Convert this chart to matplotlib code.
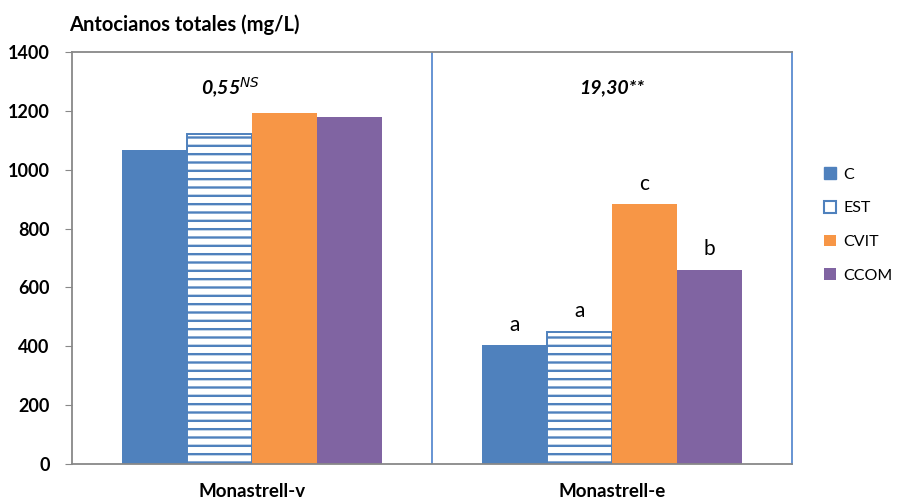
import numpy as np
import matplotlib.pyplot as plt
from matplotlib.patches import Patch

plt.rcParams["font.family"] = ["Lato", "DejaVu Sans"]
plt.rcParams["hatch.linewidth"] = 1.7

varieties = ["Monastrell-v", "Monastrell-e"]
treatments = ["C", "EST", "CVIT", "CCOM"]
values = {
    "C": [1068, 405],
    "EST": [1120, 450],
    "CVIT": [1192, 882],
    "CCOM": [1180, 660],
}
letters = {
    "C": ["", "a"],
    "EST": ["", "a"],
    "CVIT": ["", "c"],
    "CCOM": ["", "b"],
}
f_values = ["0,55$^{NS}$", "19,30**"]

blue = "#4F81BD"
colors = {"C": blue, "EST": "white", "CVIT": "#F79646", "CCOM": "#8064A2"}

fig = plt.figure(figsize=(9.04, 5.0), dpi=100)
ax = fig.add_axes([0.0796, 0.072, 0.7965, 0.824])

x = np.arange(len(varieties)) + 0.5
width = 0.181
for i, t in enumerate(treatments):
    pos = x + (i - 1.5) * width
    if t == "EST":
        ax.bar(pos, values[t], width, facecolor="white", edgecolor=blue,
               hatch="--", linewidth=1.4)
    else:
        ax.bar(pos, values[t], width, color=colors[t])
    for p, v, lab in zip(pos, values[t], letters[t]):
        if lab:
            ax.text(p, v + 35, lab, ha="center", va="bottom", fontsize=15)

for xi, txt in zip([0.44, 1.5], f_values):
    ax.text(xi, 1280, txt, ha="center", va="center", fontsize=14,
            fontweight="bold", style="italic")

ax.axvline(1, color="#5B8BD0", linewidth=1.3)
ax.set_xlim(0, 2)
ax.set_ylim(0, 1400)
ax.set_yticks(range(0, 1401, 200))
ax.set_xticks(x)
ax.set_xticklabels(varieties, fontweight="bold", fontsize=13.5)
ax.tick_params(axis="x", length=0, pad=14)
ax.tick_params(axis="y", length=5, color="#888888", labelsize=13, pad=11)
for lbl in ax.get_yticklabels():
    lbl.set_fontweight("bold")

for side in ["left", "bottom", "top"]:
    ax.spines[side].set_color("#888888")
    ax.spines[side].set_linewidth(1.3)
ax.spines["right"].set_color("#5B8BD0")
ax.spines["right"].set_linewidth(1.3)

fig.text(0.077, 0.95, "Antocianos totales (mg/L)", fontsize=14.5,
         fontweight="bold", ha="left", va="center")

handles = [
    Patch(facecolor=blue, edgecolor=blue),
    Patch(facecolor="white", edgecolor=blue, linewidth=1.5),
    Patch(facecolor=colors["CVIT"]),
    Patch(facecolor=colors["CCOM"]),
]
fig.legend(handles, treatments, loc="center left", bbox_to_anchor=(0.896, 0.55),
           frameon=False, handlelength=0.75, handleheight=0.75, labelspacing=1.2,
           handletextpad=0.45, fontsize=11.5)

fig.savefig("out.png", dpi=100)
